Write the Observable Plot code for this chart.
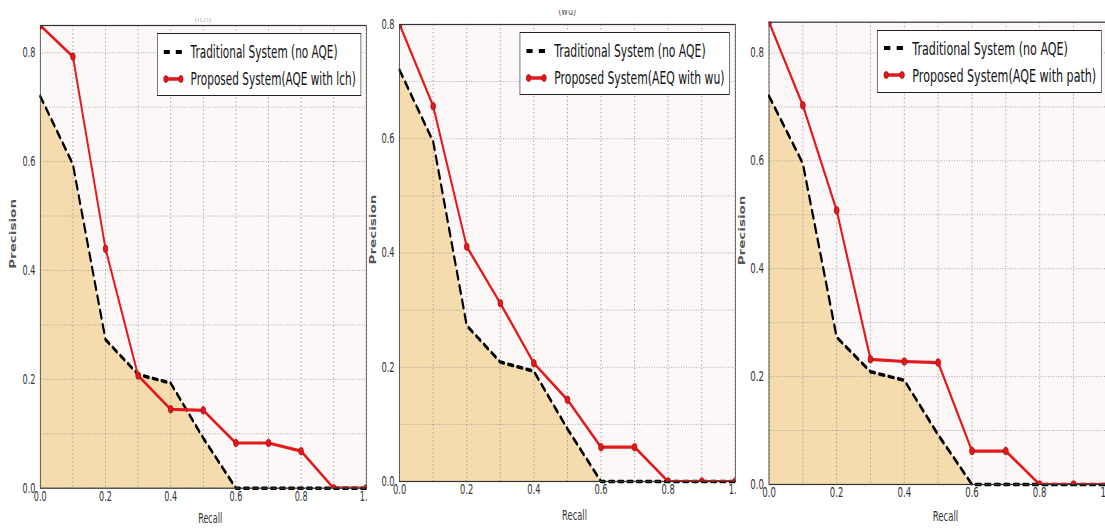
<!DOCTYPE html>
<html>
<head>
<meta charset="utf-8">
<script src="https://cdn.jsdelivr.net/npm/d3@7"></script>
<script src="https://cdn.jsdelivr.net/npm/@observablehq/plot@0.6"></script>
<style>
  html, body { margin: 0; padding: 0; background: #fff; }
  #root { position: relative; width: 1105px; height: 529px; overflow: hidden; background: #fff; font-family: "DejaVu Sans", sans-serif; }
  .panel { position: absolute; top: 0; height: 529px; transform-origin: 0 0; background: #fff; }
  .panel svg { max-width: none; display: block; }
  .legend { position: absolute; box-sizing: border-box; height: 63px; background: #fff; border: 1.5px solid #222;
            font-size: 17.5px; color: #111; padding: 5px 8px 0 55px; white-space: nowrap; }
  .legend .row { position: relative; height: 27px; line-height: 27px; }
  .legend .row svg { position: absolute; left: -45px; top: 7.5px; overflow: visible; }
  .ttl { position: absolute; overflow: hidden; font-size: 13px; line-height: 13px; text-align: center; }
  .ttl div { white-space: nowrap; }
</style>
</head>
<body>
<div id="root"></div>
<script>
// ---- data ----
const recall = [0.0, 0.1, 0.2, 0.3, 0.4, 0.5, 0.6, 0.7, 0.8, 0.9, 1.0];
const traditional = [0.72, 0.595, 0.273, 0.209, 0.193, 0.092, 0.0, 0.0, 0.0, 0.0, 0.0];
const proposedLch = [0.85, 0.793, 0.44, 0.207, 0.145, 0.143, 0.083, 0.083, 0.068, 0.0, 0.0];
const proposedWu = [0.80, 0.657, 0.411, 0.312, 0.207, 0.143, 0.06, 0.06, 0.0, 0.0, 0.0];
const proposedPath = [0.857, 0.703, 0.508, 0.232, 0.228, 0.226, 0.062, 0.062, 0.0, 0.0, 0.0];
const xTickLabels = [0.0, 0.2, 0.4, 0.6, 0.8, 1.0];
const yTickLabels = [0.0, 0.2, 0.4, 0.6, 0.8];
const xGrid = [0.0, 0.1, 0.2, 0.3, 0.4, 0.5, 0.6, 0.7, 0.8, 0.9, 1.0];
const yGrid = [0.0, 0.1, 0.2, 0.3, 0.4, 0.5, 0.6, 0.7, 0.8];
const traditionalLabel = "Traditional System (no AQE)";
const proposedLabels = ["Proposed System(AQE with lch)", "Proposed System(AEQ with wu)", "Proposed System(AQE with path)"];
const panelTitles = ["(lch)", "(wu)", ""];
const proposedSeries = [proposedLch, proposedWu, proposedPath];
const yMax = [0.85, 0.8, 0.857];
const xLabel = "Recall";
const yLabel = "Precision";

// ---- layout / style ----
const RED = "#e3191c";
const WHEAT = "#f4dcaf";
const BG = "#fcf8f7";
const layout = [
  {L: 40,    R: 366,  T: 25,   B: 487.7, X0: 0,   s: 0.600, recallDy: 35, precX: 13,    precDy: 12,   tTop: 18, tH: 5,  tOff: -7.5, tColor: "#bbb"},
  {L: 399.3, R: 735,  T: 24,   B: 481,   X0: 367, s: 0.618, recallDy: 39, precX: 373,   precDy: 11.5, tTop: 10, tH: 10, tOff: -6,   tColor: "#555"},
  {L: 768.7, R: 1107, T: 21.7, B: 484,   X0: 736, s: 0.635, recallDy: 37, precX: 741.5, precDy: 12,   tTop: 10, tH: 10, tOff: -6,   tColor: "#555"}
];
const fmt = d3.format(".1f");

const root = document.getElementById("root");

layout.forEach((cfg, p) => {
  const s = cfg.s;
  const mL = (cfg.L - cfg.X0) / s;
  const plotW = (cfg.R - cfg.L) / s;
  const mR = 14;
  const W = mL + plotW + mR;
  const H = 529;
  const precDx = (cfg.precX - cfg.X0) / s - mL;
  const rows = recall.map((r, i) => ({recall: r, trad: traditional[i], prop: proposedSeries[p][i]}));

  const chart = Plot.plot({
    width: W,
    height: H,
    marginLeft: mL,
    marginRight: mR,
    marginTop: cfg.T,
    marginBottom: H - cfg.B,
    x: {domain: [0, 1], axis: null},
    y: {domain: [0, yMax[p]], axis: null},
    style: {fontFamily: "DejaVu Sans, sans-serif", fontSize: "13px", color: "#333", background: "transparent", overflow: "hidden"},
    marks: [
      Plot.frame({fill: BG, stroke: null}),
      Plot.areaY(rows, {x: "recall", y: "trad", fill: WHEAT}),
      Plot.gridX(xGrid, {stroke: "#8a8a8a", strokeOpacity: 0.9, strokeDasharray: "1.5,2.5"}),
      Plot.gridY(yGrid, {stroke: "#8a8a8a", strokeOpacity: 0.9, strokeDasharray: "1.5,2.5"}),
      Plot.line(rows, {x: "recall", y: "trad", stroke: "#000", strokeWidth: 3.5, strokeDasharray: "8,7"}),
      Plot.line(rows, {x: "recall", y: "prop", stroke: RED, strokeWidth: 3.2, clip: true}),
      Plot.dot(rows, {x: "recall", y: "prop", r: 3.8, fill: RED, stroke: "#a80f12", strokeWidth: 1, clip: true}),
      Plot.frame({stroke: "#333", strokeWidth: 1.2}),
      Plot.text(xTickLabels, {x: d => d, text: d => fmt(d), frameAnchor: "bottom", lineAnchor: "top", dy: 3, fontSize: 13.5, fill: "#333"}),
      Plot.text(yTickLabels, {y: d => d, text: d => fmt(d), frameAnchor: "left", textAnchor: "end", dx: -8, fontSize: 13.5, fill: "#333"}),
      Plot.text([xLabel], {frameAnchor: "bottom", text: d => d, dx: 11.5, dy: cfg.recallDy, fontSize: 13.5, fill: "#333"}),
      Plot.text([yLabel], {frameAnchor: "left", text: d => d, rotate: -90, dx: precDx, dy: cfg.precDy, fontSize: 13.5, fontWeight: "bold", fill: "#555"})
    ]
  });

  const panel = document.createElement("div");
  panel.className = "panel";
  panel.style.left = cfg.X0 + "px";
  panel.style.width = W + "px";
  panel.style.transform = `scaleX(${s})`;
  panel.appendChild(chart);

  // legend
  const legend = document.createElement("div");
  legend.className = "legend";
  legend.style.right = (mR + 8) + "px";
  legend.style.top = (cfg.T + 8) + "px";
  legend.innerHTML = `
    <div class="row"><svg width="32" height="10"><line x1="0" y1="5" x2="32" y2="5" stroke="#000" stroke-width="4" stroke-dasharray="10,10"/></svg>${traditionalLabel}</div>
    <div class="row"><svg width="32" height="10"><line x1="3" y1="5" x2="29" y2="5" stroke="${RED}" stroke-width="3.5"/><circle cx="3.5" cy="5" r="3.5" fill="${RED}" stroke="#a80f12"/><circle cx="28.5" cy="5" r="3.5" fill="${RED}" stroke="#a80f12"/></svg>${proposedLabels[p]}</div>`;
  panel.appendChild(legend);

  // clipped title remnant (the reference shows only the lower part of these titles)
  if (panelTitles[p]) {
    const t = document.createElement("div");
    t.className = "ttl";
    t.style.top = cfg.tTop + "px";
    t.style.height = cfg.tH + "px";
    t.style.left = mL + "px";
    t.style.width = plotW + "px";
    t.style.color = cfg.tColor;
    t.innerHTML = `<div style="margin-top:${cfg.tOff}px">${panelTitles[p]}</div>`;
    panel.appendChild(t);
  }
  root.appendChild(panel);
});
</script>
</body>
</html>
